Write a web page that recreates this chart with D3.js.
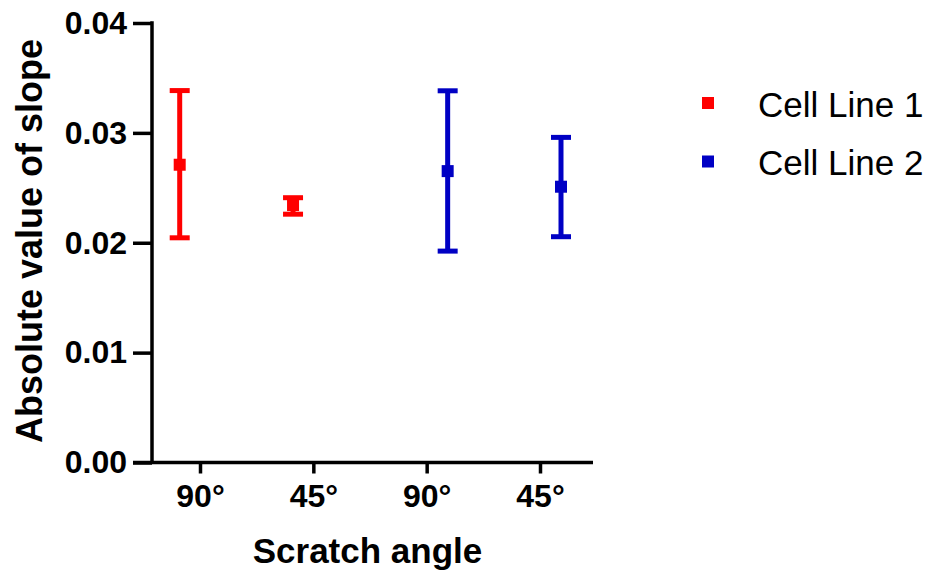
<!DOCTYPE html>
<html>
<head>
<meta charset="utf-8">
<script src="https://cdn.jsdelivr.net/npm/d3@7"></script>
<style>
  html, body { margin: 0; padding: 0; background: #fff; }
  svg { display: block; font-family: "Liberation Sans", Arial, sans-serif; }
</style>
</head>
<body>
<svg id="chart" width="935" height="578"></svg>
<script>
// ---- data ----
const categories = ["90°", "45°", "90°", "45°"];
const yTicks = [0, 0.01, 0.02, 0.03, 0.04];
const seriesNames = ["Cell Line 1", "Cell Line 2"];
const seriesColors = ["#ff0000", "#0000c4"];
// Cell Line 1 occupies categories 0,1 ; Cell Line 2 occupies categories 2,3
const cat1 = [0, 1];
const mean1 = [0.0271, 0.02343];
const upper1 = [0.03385, 0.0241];
const lower1 = [0.02045, 0.0226];
const cat2 = [2, 3];
const mean2 = [0.02652, 0.0251];
const upper2 = [0.03383, 0.02959];
const lower2 = [0.01924, 0.02055];

// ---- layout ----
const svg = d3.select("#chart");
const y = d3.scaleLinear().domain([0, 0.04]).range([462.5, 23]);
const x = d3.scalePoint().domain(d3.range(categories.length)).range([200, 540]);
const dodge = d3.scaleOrdinal().domain(seriesNames).range([-20.3, 21]);
const axisX0 = 152, axisLeftExtent = 133, axisRightExtent = 593;

// y axis
const yAxis = d3.axisLeft(y).tickValues(yTicks).tickFormat(d3.format(".2f"))
  .tickSize(19).tickPadding(6);
const gy = svg.append("g").attr("transform", `translate(${axisX0},0)`).call(yAxis);
gy.select(".domain").remove();
gy.selectAll(".tick line").attr("stroke", "#000").attr("stroke-width", 3.5);
gy.selectAll(".tick text").attr("fill", "#000").style("font-size", "32px")
  .style("font-weight", "bold").style("font-family", "'Liberation Sans', Arial, sans-serif");
svg.append("line").attr("x1", axisX0).attr("x2", axisX0)
  .attr("y1", y(0.04) - 1.75).attr("y2", y(0))
  .attr("stroke", "#000").attr("stroke-width", 3.5);

// x axis
const xAxis = d3.axisBottom(x).tickFormat(i => categories[i]).tickSize(11).tickPadding(11);
const gx = svg.append("g").attr("transform", `translate(0,${y(0)})`).call(xAxis);
gx.select(".domain").remove();
gx.selectAll(".tick line").attr("stroke", "#000").attr("stroke-width", 3.5);
gx.selectAll(".tick text").attr("fill", "#000").style("font-size", "32px")
  .style("font-weight", "bold").style("font-family", "'Liberation Sans', Arial, sans-serif");
svg.append("line").attr("x1", axisLeftExtent).attr("x2", axisRightExtent)
  .attr("y1", y(0)).attr("y2", y(0))
  .attr("stroke", "#000").attr("stroke-width", 3.5);

// axis titles
svg.append("text").attr("x", 367.5).attr("y", 563).attr("text-anchor", "middle")
  .style("font-size", "35px").style("font-weight", "bold").attr("fill", "#000")
  .text("Scratch angle");
svg.append("text").attr("transform", "translate(42,241) rotate(-90)")
  .attr("text-anchor", "middle")
  .style("font-size", "36px").style("font-weight", "bold").attr("fill", "#000")
  .text("Absolute value of slope");

// series
const series = [
  { name: seriesNames[0], color: seriesColors[0], cat: cat1, mean: mean1, up: upper1, lo: lower1 },
  { name: seriesNames[1], color: seriesColors[1], cat: cat2, mean: mean2, up: upper2, lo: lower2 }
];
const capW = 20, markerS = 12, sw = 5;
series.forEach(s => {
  const g = svg.append("g").attr("fill", s.color).attr("stroke", s.color);
  s.cat.forEach((c, i) => {
    const cx = x(c) + dodge(s.name);
    g.append("line").attr("x1", cx).attr("x2", cx)
      .attr("y1", y(s.up[i])).attr("y2", y(s.lo[i])).attr("stroke-width", sw);
    [s.up[i], s.lo[i]].forEach(v => {
      g.append("line").attr("x1", cx - capW / 2).attr("x2", cx + capW / 2)
        .attr("y1", y(v)).attr("y2", y(v)).attr("stroke-width", sw);
    });
    g.append("rect").attr("x", cx - markerS / 2).attr("y", y(s.mean[i]) - markerS / 2)
      .attr("width", markerS).attr("height", markerS).attr("stroke", "none");
  });
});

// legend
const legendY = d3.scalePoint().domain(seriesNames).range([103, 161.5]);
const lg = svg.append("g");
seriesNames.forEach((n, i) => {
  lg.append("rect").attr("x", 708 - 6).attr("y", legendY(n) - 6)
    .attr("width", 12).attr("height", 12).attr("fill", seriesColors[i]);
  lg.append("text").attr("x", 758).attr("y", legendY(n) + 13.5)
    .style("font-size", "35px").attr("fill", "#000").text(n);
});
</script>
</body>
</html>
